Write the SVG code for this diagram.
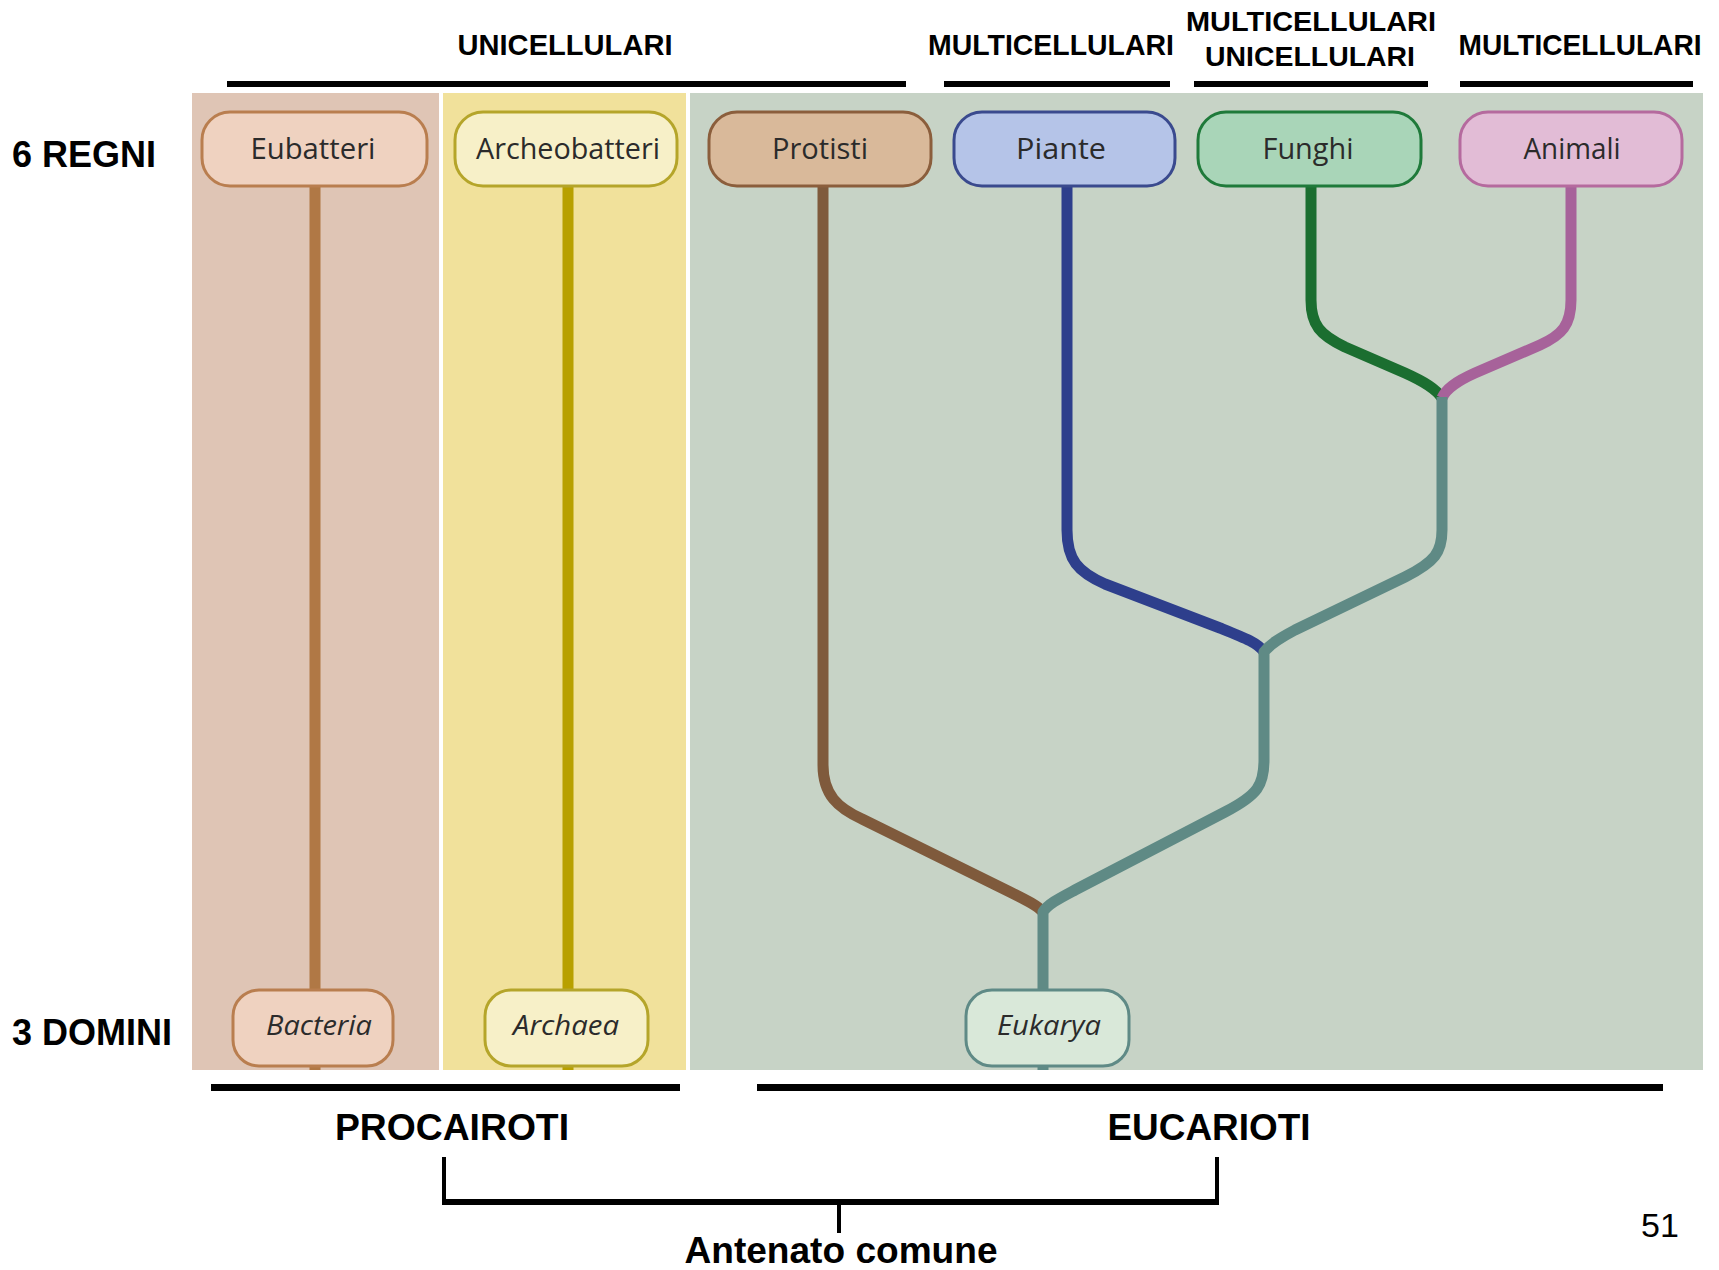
<svg xmlns="http://www.w3.org/2000/svg" width="1719" height="1270" viewBox="0 0 1719 1270">
  <style>
    .hdr { font-family: "Liberation Sans", Arial, sans-serif; font-weight: bold; fill: #000; text-anchor: middle; }
    .bar { fill: #000; }
    .box { stroke-width: 3; }
    .lbl { font-family: "Open Sans", "DejaVu Sans", sans-serif; font-size: 30px; fill: #2b2b2b; text-anchor: middle; }
    .dom { font-family: "Open Sans", "DejaVu Sans", sans-serif; font-size: 28px; font-style: italic; fill: #2b2b2b; text-anchor: middle; }
    .br { fill: none; stroke-width: 11; stroke-linecap: butt; stroke-linejoin: round; }
    .brk { fill: none; stroke: #000; }
  </style>

  <rect width="1719" height="1270" fill="#ffffff"/>

  <!-- background bands -->
  <g id="bands">
    <rect x="192" y="93" width="247" height="977" fill="#dfc5b5"/>
    <rect x="443" y="93" width="243" height="977" fill="#f1e19b"/>
    <rect x="690" y="93" width="1013" height="977" fill="#c7d3c6"/>
  </g>

  <!-- header labels and bars -->
  <g id="headers">
    <text class="hdr" x="565" y="55" font-size="30" textLength="215" lengthAdjust="spacingAndGlyphs">UNICELLULARI</text>
    <rect class="bar" x="227" y="81" width="679" height="6"/>
    <text class="hdr" x="1051" y="55" font-size="30" textLength="246" lengthAdjust="spacingAndGlyphs">MULTICELLULARI</text>
    <rect class="bar" x="944" y="81" width="226" height="6"/>
    <text class="hdr" x="1311" y="31" font-size="28" textLength="250" lengthAdjust="spacingAndGlyphs">MULTICELLULARI</text>
    <text class="hdr" x="1310" y="66" font-size="28" textLength="210" lengthAdjust="spacingAndGlyphs">UNICELLULARI</text>
    <rect class="bar" x="1194" y="81" width="234" height="6"/>
    <text class="hdr" x="1580" y="55" font-size="30" textLength="243" lengthAdjust="spacingAndGlyphs">MULTICELLULARI</text>
    <rect class="bar" x="1460" y="81" width="233" height="6"/>
  </g>

  <g id="row-labels">
    <text class="hdr" x="12" y="167" font-size="36" style="text-anchor:start">6 REGNI</text>
    <text class="hdr" x="12" y="1045" font-size="36" style="text-anchor:start">3 DOMINI</text>
  </g>

  <!-- connectors -->
  <g id="connectors">
    <path class="br" stroke="#b07845" d="M315 186 V990 M315 1066 V1070"/>
    <path class="br" stroke="#b8a000" d="M568 186 V990 M568 1066 V1070"/>
    <path class="br" stroke="#7f5a3c" d="M823 186 V765 C823 795 838 808 862 819 L1010 892 C1028 901 1038 906 1043 912"/>
    <path class="br" stroke="#2e3f8c" d="M1067 186 V530 C1067 560 1078 572 1105 584 L1220 628 C1245 638 1258 643 1264 652"/>
    <path class="br" stroke="#1b6e30" d="M1311 186 V300 C1311 325 1320 335 1345 347 L1405 373 C1425 382 1436 389 1442 398"/>
    <path class="br" stroke="#a7629a" d="M1571 186 V300 C1571 325 1562 335 1540 345 L1475 373 C1455 382 1446 389 1442 398"/>
    <path class="br" stroke="#5f8a85" d="M1442 397 V530 C1442 552 1435 562 1405 577 L1295 630 C1280 638 1270 644 1264 652 V760 C1264 785 1258 795 1225 812 L1075 890 C1060 898 1048 904 1043 912 V990 M1043 1066 V1070"/>
  </g>

  <!-- kingdoms -->
  <g id="eubatteri">
    <rect class="box" x="202" y="112" width="225" height="74" rx="28" fill="#efd2c0" stroke="#b97e4f"/>
    <text class="lbl" x="313" y="159" textLength="125" lengthAdjust="spacingAndGlyphs">Eubatteri</text>
  </g>
  <g id="archeobatteri">
    <rect class="box" x="455" y="112" width="222" height="74" rx="28" fill="#f7f0c8" stroke="#b5a52a"/>
    <text class="lbl" x="568" y="159" textLength="184" lengthAdjust="spacingAndGlyphs">Archeobatteri</text>
  </g>
  <g id="protisti">
    <rect class="box" x="709" y="112" width="222" height="74" rx="28" fill="#d9b99a" stroke="#8b5e3c"/>
    <text class="lbl" x="820" y="159" textLength="96" lengthAdjust="spacingAndGlyphs">Protisti</text>
  </g>
  <g id="piante">
    <rect class="box" x="954" y="112" width="221" height="74" rx="28" fill="#b5c4e8" stroke="#3a4a8e"/>
    <text class="lbl" x="1061" y="159" textLength="90" lengthAdjust="spacingAndGlyphs">Piante</text>
  </g>
  <g id="funghi">
    <rect class="box" x="1198" y="112" width="223" height="74" rx="28" fill="#a9d5b8" stroke="#1f7a3a"/>
    <text class="lbl" x="1308" y="159" textLength="91" lengthAdjust="spacingAndGlyphs">Funghi</text>
  </g>
  <g id="animali">
    <rect class="box" x="1460" y="112" width="222" height="74" rx="28" fill="#e2bcd6" stroke="#b56a9e"/>
    <text class="lbl" x="1572" y="159" textLength="97" lengthAdjust="spacingAndGlyphs">Animali</text>
  </g>

  <!-- domains -->
  <g id="bacteria">
    <rect class="box" x="233" y="990" width="160" height="76" rx="26" fill="#efd2c0" stroke="#b97e4f"/>
    <text class="dom" x="319" y="1035" textLength="106" lengthAdjust="spacingAndGlyphs">Bacteria</text>
  </g>
  <g id="archaea">
    <rect class="box" x="485" y="990" width="163" height="76" rx="26" fill="#f7f0c8" stroke="#b5a52a"/>
    <text class="dom" x="566" y="1035" textLength="106" lengthAdjust="spacingAndGlyphs">Archaea</text>
  </g>
  <g id="eukarya">
    <rect class="box" x="966" y="990" width="163" height="76" rx="26" fill="#d9e8d9" stroke="#5f8a86"/>
    <text class="dom" x="1049" y="1035" textLength="104" lengthAdjust="spacingAndGlyphs">Eukarya</text>
  </g>

  <!-- lower groupings -->
  <g id="groups">
    <rect class="bar" x="211" y="1084" width="469" height="7"/>
    <rect class="bar" x="757" y="1084" width="906" height="7"/>
    <text class="hdr" x="452" y="1140" font-size="37" textLength="234" lengthAdjust="spacingAndGlyphs">PROCAIROTI</text>
    <text class="hdr" x="1209" y="1140" font-size="37" textLength="203" lengthAdjust="spacingAndGlyphs">EUCARIOTI</text>
  </g>

  <g id="ancestor">
    <path class="brk" stroke-width="4" d="M444 1157 V1202 M1217 1157 V1202 M839 1202 V1233"/>
    <path class="brk" stroke-width="6" d="M442 1202 H1219"/>
    <text class="hdr" x="841" y="1263" font-size="37" textLength="313" lengthAdjust="spacingAndGlyphs">Antenato comune</text>
  </g>

  <text x="1660" y="1237" font-family="Liberation Sans, Arial, sans-serif" font-size="34" text-anchor="middle" fill="#000">51</text>
</svg>
